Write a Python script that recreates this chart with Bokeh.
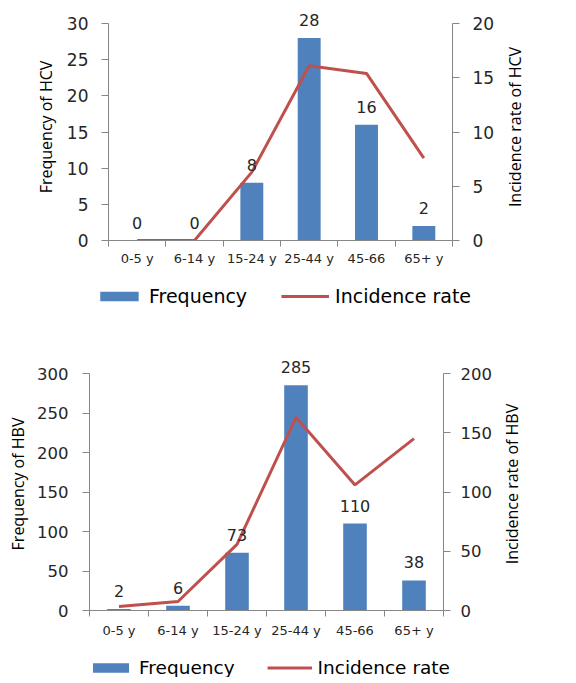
from bokeh.plotting import figure
from bokeh.models import (ColumnDataSource, Range1d, LinearAxis, FixedTicker,
                          Legend, LegendItem, LabelSet, Spacer)
from bokeh.core.properties import value
from bokeh.layouts import column, row
from bokeh.embed import file_html
from bokeh.resources import INLINE

categories = ["0-5 y", "6-14 y", "15-24 y", "25-44 y", "45-66", "65+ y"]

hcv_frequency = [0, 0, 8, 28, 16, 2]
hcv_incidence = [0, 0, 6.3, 16.1, 15.4, 7.6]
hcv_freq_ticks = [0, 5, 10, 15, 20, 25, 30]
hcv_rate_ticks = [0, 5, 10, 15, 20]

hbv_frequency = [2, 6, 73, 285, 110, 38]
hbv_incidence = [3.4, 7.6, 55.8, 163, 106, 145]
hbv_freq_ticks = [0, 50, 100, 150, 200, 250, 300]
hbv_rate_ticks = [0, 50, 100, 150, 200]

legend_labels = ["Frequency", "Incidence rate"]

BLUE = "#4F81BD"
RED = "#C0504D"
AXIS = "#868686"
TXT = "#262626"
NUM_FONT = "DejaVu Sans"
LBL_FONT = "Open Sans"
NAN = float("nan")


def make_chart(freq, rate, freq_ticks, rate_ticks, left_label, g):
    n = len(categories)
    x_pos = [i + 0.5 for i in range(n)]
    src = ColumnDataSource(dict(x=x_pos, freq=freq, rate=rate,
                                label=[str(v) for v in freq]))
    k = g["head"]
    p = figure(frame_width=g["fw"], frame_height=g["fh"],
               x_range=Range1d(0, n),
               y_range=Range1d(0, freq_ticks[-1] * k), output_backend="svg",
               toolbar_location=None)
    p.extra_y_ranges = {"rate": Range1d(0, rate_ticks[-1] * k)}
    p.outline_line_color = None
    p.xgrid.visible = False
    p.ygrid.visible = False

    p.vbar(x="x", top="freq", width=0.4, source=src, fill_color=BLUE,
           line_color=None)
    p.line(x="x", y="rate", source=src, line_color=RED, line_width=3,
           y_range_name="rate")

    labels = LabelSet(x="x", y="freq", text="label", source=src,
                      text_align="center", text_baseline="alphabetic",
                      y_offset=12, text_font=value(NUM_FONT),
                      text_font_size=value(g["val_fs"]), text_color=TXT)
    p.add_layout(labels)

    xa = p.xaxis[0]
    xa.ticker = FixedTicker(ticks=x_pos, minor_ticks=list(range(n + 1)))
    xa.major_label_overrides = {x: c for x, c in zip(x_pos, categories)}
    xa.major_tick_out = 0
    xa.major_tick_in = 0
    xa.minor_tick_out = 6
    xa.minor_tick_in = 0
    xa.axis_line_color = AXIS
    xa.minor_tick_line_color = AXIS
    xa.major_label_text_font = NUM_FONT
    xa.major_label_text_font_size = "13px"
    xa.major_label_text_color = TXT
    xa.major_label_standoff = g["xs"]

    def style_y(ax, ticks, standoff):
        ax.ticker = FixedTicker(ticks=ticks)
        ax.bounds = (0, ticks[-1])
        ax.major_tick_out = 7
        ax.major_tick_in = 0
        ax.axis_line_color = AXIS
        ax.major_tick_line_color = AXIS
        ax.major_label_text_font = NUM_FONT
        ax.major_label_text_font_size = g["tick_fs"]
        ax.major_label_text_color = TXT
        ax.major_label_standoff = standoff
        ax.axis_label_text_font = LBL_FONT
        ax.axis_label_text_font_size = "16px"
        ax.axis_label_text_font_style = "normal"
        ax.axis_label_text_color = "black"

    ya = p.yaxis[0]
    style_y(ya, freq_ticks, g["ls"])
    ya.axis_label = left_label
    ya.axis_label_standoff = g["lls"]

    ra = LinearAxis(y_range_name="rate")
    style_y(ra, rate_ticks, g["rs"])
    p.add_layout(ra, "right")
    return p


def make_side_label(text, fh):
    # thin companion figure carrying the right-hand axis title (reads upward)
    f = figure(frame_width=1, frame_height=fh, x_range=Range1d(0, 1),
               y_range=Range1d(0, 1), x_axis_type=None,
               output_backend="svg", toolbar_location=None)
    f.outline_line_color = None
    f.ygrid.visible = False
    ax = f.yaxis[0]
    ax.ticker = FixedTicker(ticks=[])
    ax.axis_label = text
    ax.axis_label_text_font = LBL_FONT
    ax.axis_label_text_font_size = "16px"
    ax.axis_label_text_font_style = "normal"
    ax.axis_label_text_color = "black"
    ax.axis_label_standoff = 0
    ax.major_label_standoff = 0
    ax.major_tick_in = 0
    ax.major_tick_out = 0
    ax.minor_tick_in = 0
    ax.minor_tick_out = 0
    ax.axis_line_color = None
    return f


def make_legend(g):
    lf = figure(frame_width=400, frame_height=g["lh"], x_range=Range1d(0, 1),
                y_range=Range1d(0, 1), x_axis_type=None, y_axis_type=None,
                output_backend="svg", toolbar_location=None)
    lf.outline_line_color = None
    # swatch-only renderers (NaN values: nothing is drawn in the frame)
    r1 = lf.vbar(x=[NAN], top=[NAN], width=0.4, fill_color=BLUE, line_color=None)
    r2 = lf.line(x=[NAN, NAN], y=[NAN, NAN], line_color=RED, line_width=3)
    legend = Legend(items=[LegendItem(label=legend_labels[0], renderers=[r1]),
                           LegendItem(label=legend_labels[1], renderers=[r2])],
                    orientation="horizontal", location="center",
                    glyph_width=g["gw"], glyph_height=12,
                    label_text_font=NUM_FONT, label_text_font_size=g["leg_fs"],
                    label_text_color="black", spacing=g["sp"], label_standoff=6,
                    padding=2, margin=0, border_line_color=None,
                    background_fill_alpha=0)
    lf.add_layout(legend)
    return lf


g1 = dict(fw=344, fh=227, head=227 / 217, tick_fs="17px", val_fs="16px",
          xs=4, ls=13, lls=7, rs=13)
g2 = dict(fw=354, fh=253, head=253 / 237, tick_fs="16.5px", val_fs="16px",
          xs=6, ls=14, lls=5, rs=10)

p1 = make_chart(hcv_frequency, hcv_incidence, hcv_freq_ticks, hcv_rate_ticks,
                "Frequency of HCV", g1)
p2 = make_chart(hbv_frequency, hbv_incidence, hbv_freq_ticks, hbv_rate_ticks,
                "Frequency of HBV", g2)
s1 = make_side_label("Incidence rate of HCV", g1["fh"])
s2 = make_side_label("Incidence rate of HBV", g2["fh"])
l1 = make_legend(dict(lh=30, gw=48, leg_fs="19px", sp=34))
l2 = make_legend(dict(lh=20, gw=45, leg_fs="18.5px", sp=32))

layout = column(Spacer(width=5, height=8),
                row(Spacer(width=31, height=5), p1, Spacer(width=3, height=5), s1),
                Spacer(width=5, height=8),
                row(Spacer(width=78, height=5), l1),
                Spacer(width=5, height=36),
                row(Spacer(width=4, height=5), p2, Spacer(width=3, height=5), s2),
                Spacer(width=5, height=12),
                row(Spacer(width=64, height=5), l2))
open("out.html", "w").write(file_html(layout, INLINE))
